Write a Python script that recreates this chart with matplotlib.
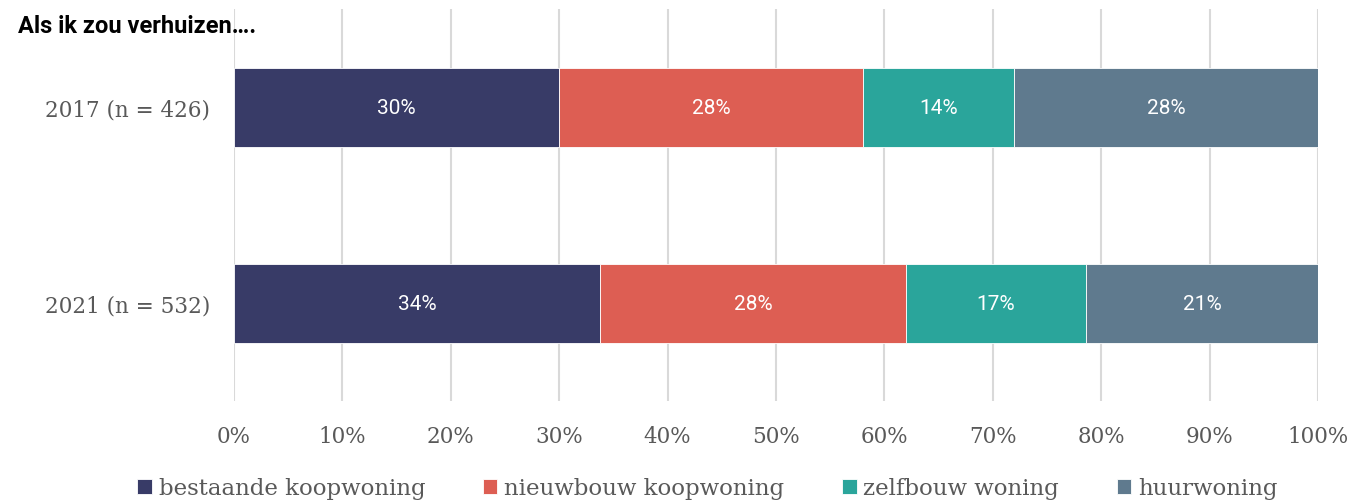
import matplotlib
matplotlib.use('Agg')
import matplotlib.pyplot as plt
import numpy as np

# data
years = ['2017 (n = 426)', '2021 (n = 532)']
categories = ['bestaande koopwoning', 'nieuwbouw koopwoning', 'zelfbouw woning', 'huurwoning']
values = {
    'bestaande koopwoning': [30.0, 33.8],
    'nieuwbouw koopwoning': [28.0, 28.2],
    'zelfbouw woning': [14.0, 16.6],
    'huurwoning': [28.0, 21.4],
}
labels = {
    'bestaande koopwoning': ['30%', '34%'],
    'nieuwbouw koopwoning': ['28%', '28%'],
    'zelfbouw woning': ['14%', '17%'],
    'huurwoning': ['28%', '21%'],
}
colors = ['#383B67', '#DD5E53', '#2AA59B', '#5F7A8E']

SERIF = ['DejaVu Serif']
SANS = ['Roboto', 'DejaVu Sans']
GREY = '#595959'

fig = plt.figure(figsize=(13.55, 5.02), dpi=100)
ax = fig.add_axes([0.1727, 0.199, 0.8, 0.781])

y = np.arange(len(years))
left = np.zeros(len(years))
for cat, col in zip(categories, colors):
    v = np.array(values[cat])
    bars = ax.barh(y, v, left=left, height=0.403, color=col, label=cat,
                   edgecolor='white', linewidth=0.6, zorder=3)
    for b, t in zip(bars, labels[cat]):
        ax.text(b.get_x() + b.get_width() / 2, b.get_y() + b.get_height() / 2, t,
                ha='center', va='center', color='white', fontsize=15, family=SANS, zorder=4)
    left += v

ax.set_xlim(0, 100)
ax.set_ylim(1.5, -0.5)
ax.set_xticks(np.arange(0, 101, 10))
ax.set_xticklabels([f'{t}%' for t in range(0, 101, 10)], family=SERIF, fontsize=15.5, color=GREY)
ax.set_yticks(y)
ax.set_yticklabels(years, family=SERIF, fontsize=15.5, color=GREY)
ax.tick_params(axis='x', length=0, pad=17)
ax.tick_params(axis='y', length=0, pad=17)
ax.grid(axis='x', color='#D9D9D9', linewidth=1.5, zorder=0)
for s in ax.spines.values():
    s.set_visible(False)

fig.text(0.013, 0.948, 'Als ik zou verhuizen….', fontsize=17, fontweight='bold',
         family=SANS, color='black', va='center')

leg = fig.legend(loc='center', bbox_to_anchor=(0.522, 0.025), ncol=4, frameon=False,
                 prop={'family': SERIF, 'size': 16.5}, handlelength=0.65, handleheight=0.65,
                 handletextpad=0.3, columnspacing=2.5)
for t in leg.get_texts():
    t.set_color(GREY)

fig.savefig('out.png', dpi=100)
